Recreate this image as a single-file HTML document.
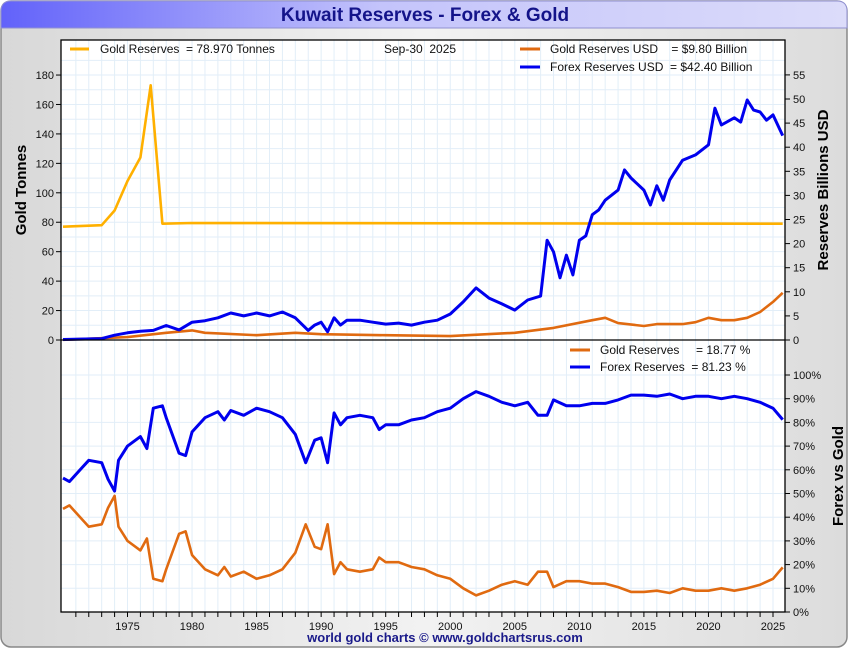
<!DOCTYPE html>
<html><head><meta charset="utf-8"><style>
body{margin:0;width:850px;height:650px;background:#fff;font-family:"Liberation Sans",sans-serif;overflow:hidden}
text{white-space:pre}
</style></head><body>
<svg width="850" height="650" xmlns="http://www.w3.org/2000/svg" font-family="Liberation Sans, sans-serif">
<defs>
<linearGradient id="tb" x1="0" x2="1"><stop offset="0" stop-color="#6262fa"/><stop offset="0.45" stop-color="#c4c4fb"/><stop offset="1" stop-color="#dcdcfa"/></linearGradient>
<linearGradient id="bg" x1="0" x2="1"><stop offset="0" stop-color="#d8d8d8"/><stop offset="0.5" stop-color="#f2f2f2"/><stop offset="1" stop-color="#dcdcdc"/></linearGradient>
</defs>
<rect x="1" y="1" width="846" height="646" rx="10" fill="url(#bg)" stroke="#888" stroke-width="1.5"/>
<path d="M1,28 L1,11 Q1,1 11,1 L837,1 Q847,1 847,11 L847,28 Z" fill="url(#tb)" stroke="#9090d0"/>
<text x="425" y="21" text-anchor="middle" font-size="19" font-weight="bold" fill="#14148a">Kuwait Reserves - Forex &amp; Gold</text>
<rect x="61" y="40" width="724" height="572" fill="#fff"/>
<g id="grid"></g>
<g id="marks"></g>
<rect x="61" y="40" width="724" height="572" fill="none" stroke="#000" stroke-width="1.3"/>
<line x1="61" y1="340" x2="785" y2="340" stroke="#000" stroke-width="1.3"/>
<g id="axes" font-size="11" fill="#111"></g>
<text transform="translate(26,190) rotate(-90)" text-anchor="middle" font-size="15" font-weight="bold">Gold Tonnes</text>
<text transform="translate(828,190) rotate(-90)" text-anchor="middle" font-size="15" font-weight="bold">Reserves Billions USD</text>
<text transform="translate(843,476) rotate(-90)" text-anchor="middle" font-size="15" font-weight="bold">Forex vs Gold</text>
<g font-size="12" fill="#111">
<line x1="70" y1="49" x2="89" y2="49" stroke="#ffb000" stroke-width="3"/>
<text x="100" y="53" xml:space="preserve">Gold Reserves  = 78.970 Tonnes</text>
<text x="384" y="53" xml:space="preserve">Sep-30  2025</text>
<line x1="520" y1="49" x2="540" y2="49" stroke="#e06a10" stroke-width="3"/>
<text x="550" y="53" xml:space="preserve">Gold Reserves USD    = $9.80 Billion</text>
<line x1="520" y1="67" x2="540" y2="67" stroke="#0000ee" stroke-width="3"/>
<text x="550" y="71" xml:space="preserve">Forex Reserves USD  = $42.40 Billion</text>
<line x1="570" y1="350" x2="590" y2="350" stroke="#e06a10" stroke-width="3"/>
<text x="600" y="354" xml:space="preserve">Gold Reserves     = 18.77 %</text>
<line x1="570" y1="367" x2="590" y2="367" stroke="#0000ee" stroke-width="3"/>
<text x="600" y="371" xml:space="preserve">Forex Reserves  = 81.23 %</text>
</g>
<text x="445" y="642" text-anchor="middle" font-size="13" font-weight="bold" fill="#1a1a8a">world gold charts © www.goldchartsrus.com</text>
</svg>
<script>
const goldYears=[1970,1973,1974,1975,1976,1976.8,1977.7,1980,2025.75];
const goldTonnes=[77,78,88,108,124,173,79,79.5,79];
const fxYears=[1970,1973,1974,1975,1976,1977,1978,1979,1980,1981,1982,1983,1984,1985,1986,1987,1988,1989,1989.5,1990,1990.5,1991,1991.5,1992,1993,1994,1995,1996,1997,1998,1999,2000,2001,2002,2003,2004,2005,2006,2007,2007.5,2008,2008.5,2009,2009.5,2010,2010.5,2011,2011.5,2012,2013,2013.5,2014,2015,2015.5,2016,2016.5,2017,2018,2019,2020,2020.5,2021,2022,2022.5,2023,2023.5,2024,2024.5,2025,2025.75];
const fxUsd=[0.1,0.3,1,1.5,1.8,2,3,2.1,3.7,4,4.6,5.6,5,5.6,5,5.8,4.6,2,3.1,3.7,1.7,4.6,3.1,4.1,4.1,3.7,3.3,3.5,3.1,3.7,4.1,5.4,7.9,10.8,8.7,7.5,6.2,8.3,9.1,20.7,18.3,12.9,17.6,13.5,20.7,21.6,26,27,29,31.1,35.3,33.6,31.1,28,32,29,33.2,37.3,38.4,40.5,48.1,44.6,46.1,45.2,49.8,47.7,47.3,45.6,46.7,42.4];
const guYears=[1970,1975,1978,1980,1981,1985,1988,1990,1995,2000,2005,2008,2011,2012,2013,2015,2016,2018,2019,2020,2021,2022,2023,2024,2025,2025.75];
const goldUsd=[0.05,0.6,1.5,2,1.5,1,1.5,1.2,1,0.8,1.5,2.5,4.1,4.6,3.5,2.9,3.3,3.3,3.7,4.6,4.1,4.1,4.6,5.8,7.9,9.8];
const pctYears=[1970,1970.5,1971.5,1972,1973,1973.5,1974,1974.3,1975,1976,1976.5,1977,1977.7,1978,1979,1979.5,1980,1981,1982,1982.5,1983,1984,1985,1986,1987,1988,1988.8,1989.5,1990,1990.5,1991,1991.5,1992,1993,1994,1994.5,1995,1996,1997,1998,1999,2000,2001,2002,2003,2004,2005,2006,2006.8,2007.5,2008,2009,2010,2011,2012,2013,2014,2015,2016,2017,2018,2019,2020,2021,2022,2023,2024,2025,2025.75];
const fxPct=[56.5,55,61,64,63,56,51,64,70,74,69,86,87,82,67,66,76,82,84.5,81,85,83,86,84.5,82,75,63,72.5,73.5,63,84,79,82,83,82,77,79,79,81,82,84.5,86,90,93,91,88.5,87,88.5,83,83,89.5,87,87,88,88,89.5,91.5,91.5,91,92,90,91,91,90,91,90,88.5,86,81.2];
const goldPct=[43.5,45,39,36,37,44,49,36,30,26,31,14,13,18,33,34,24,18,15.5,19,15,17,14,15.5,18,25,37,27.5,26.5,37,16,21,18,17,18,23,21,21,19,18,15.5,14,10,7,9,11.5,13,11.5,17,17,10.5,13,13,12,12,10.5,8.5,8.5,9,8,10,9,9,10,9,10,11.5,14,18.8];
const yearTicks=[1975,1980,1985,1990,1995,2000,2005,2010,2015,2020,2025];
const leftTicks=[0,20,40,60,80,100,120,140,160,180];
const rightTicks=[0,5,10,15,20,25,30,35,40,45,50,55];
const pctTicks=[0,10,20,30,40,50,60,70,80,90,100];

const X=y=>127.5+(y-1975)*12.91;
const YT=v=>340-v*1.472;
const YU=v=>340-v*4.82;
const YP=v=>612-v*2.37;
const NS='http://www.w3.org/2000/svg';
function mk(tag,attrs,parent){const e=document.createElementNS(NS,tag);for(const k in attrs)e.setAttribute(k,attrs[k]);parent.appendChild(e);return e;}
const grid=document.getElementById('grid'),marks=document.getElementById('marks'),axes=document.getElementById('axes');
for(let y=1971;y<=2025;y++){const l=mk('line',{x1:X(y),x2:X(y),y1:40,y2:612,stroke:'#e2eef8','stroke-width':1},grid);}
for(let v=10;v<=190;v+=10){if(YT(v)<41)break;const l=mk('line',{x1:61,x2:785,y1:YT(v),y2:YT(v),stroke:'#e2eef8'},grid);}
for(let v=10;v<=100;v+=10){const l=mk('line',{x1:61,x2:785,y1:YP(v),y2:YP(v),stroke:'#e2eef8'},grid);}
function line(xs,vs,fy,color,name){const d=xs.map((x,i)=>(i?'L':'M')+X(x).toFixed(1)+','+fy(vs[i]).toFixed(1)).join('');const p=mk('path',{d:d,fill:'none',stroke:color,'stroke-width':color==='#0000ee'?3:2.6,'stroke-linejoin':'round'},marks);}
line(goldYears,goldTonnes,YT,'#ffb000','gold-tonnes-line');
line(guYears,goldUsd,YU,'#e06a10','gold-usd-line');
line(fxYears,fxUsd,YU,'#0000ee','forex-usd-line');
line(pctYears,goldPct,YP,'#e06a10','gold-pct-line');
line(pctYears,fxPct,YP,'#0000ee','forex-pct-line');
for(let y=1971;y<=2025;y++){const l=mk('line',{x1:X(y),x2:X(y),y1:612,y2:617,stroke:'#000'},axes);}
yearTicks.forEach(y=>{const t=mk('text',{x:X(y),y:630,'text-anchor':'middle'},axes);t.textContent=y;});
leftTicks.forEach(v=>{mk('line',{x1:56,x2:61,y1:YT(v),y2:YT(v),stroke:'#000'},axes);const t=mk('text',{x:54,y:YT(v)+4,'text-anchor':'end'},axes);t.textContent=v;});
rightTicks.forEach(v=>{mk('line',{x1:785,x2:790,y1:YU(v),y2:YU(v),stroke:'#000'},axes);const t=mk('text',{x:793,y:YU(v)+4},axes);t.textContent=v;});
pctTicks.forEach(v=>{mk('line',{x1:785,x2:790,y1:YP(v),y2:YP(v),stroke:'#000'},axes);const t=mk('text',{x:793,y:YP(v)+4},axes);t.textContent=v+'%';});
</script>
</body></html>
